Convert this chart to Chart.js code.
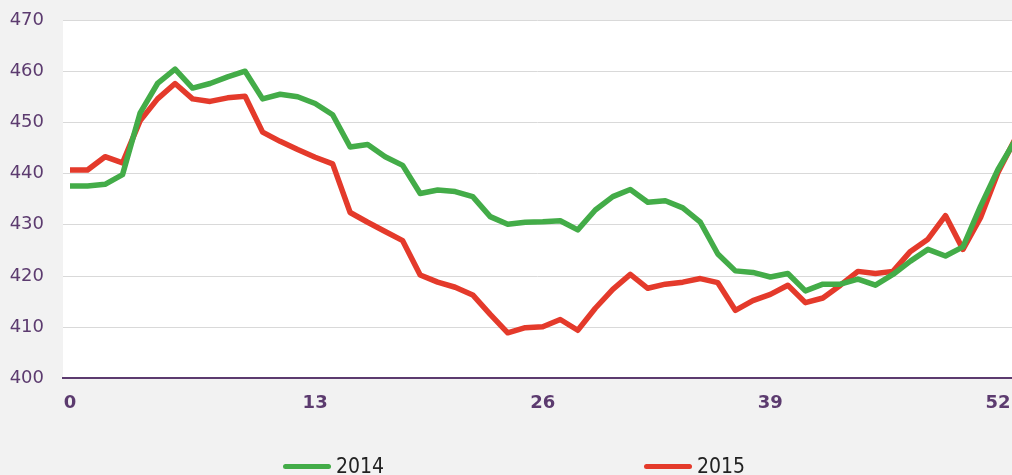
<!DOCTYPE html>
<html>
<head>
<meta charset="utf-8">
<script src="https://cdn.jsdelivr.net/npm/chart.js@4.4.1/dist/chart.umd.min.js"></script>
<style>
  html, body { margin: 0; padding: 0; background: #f2f2f2; }
  #wrap { position: relative; width: 1012px; height: 475px; overflow: hidden; }
  #chart { position: absolute; left: 0; top: 0; }
  .legend-item { position: absolute; top: 456px; height: 20px; display: flex; align-items: center;
    font-family: 'Liberation Sans Narrow', 'DejaVu Sans Condensed', sans-serif; font-size: 21px; color: #222; }
  .legend-line { width: 48px; height: 5px; border-radius: 3px; margin-right: 5px; }
</style>
</head>
<body>
<div id="wrap">
  <canvas id="chart" width="1012" height="475"></canvas>
  <div class="legend-item" id="leg2014" style="left:283px"><span class="legend-line"></span><span class="legend-text"></span></div>
  <div class="legend-item" id="leg2015" style="left:644px"><span class="legend-line"></span><span class="legend-text"></span></div>
</div>
<script>
// weekly values
const series2014 = [
  437.6, 437.6, 437.9, 439.8, 451.8, 457.6, 460.4, 456.7, 457.6, 458.9,
  460.0, 454.6, 455.5, 455.0, 453.7, 451.5, 445.2, 445.7, 443.3, 441.6,
  436.1, 436.8, 436.5, 435.5, 431.6, 430.1, 430.5, 430.6, 430.8, 429.0,
  432.9, 435.5, 436.9, 434.4, 434.7, 433.3, 430.5, 424.3, 421.0, 420.7,
  419.8, 420.5, 417.1, 418.4, 418.4, 419.4, 418.2, 420.3, 422.9, 425.2,
  423.9, 425.7, 433.6, 440.8, 446.6
];
const series2015 = [
  440.7, 440.7, 443.3, 442.1, 450.3, 454.6, 457.6, 454.6, 454.1, 454.8,
  455.1, 448.1, 446.3, 444.7, 443.2, 441.9, 432.4, 430.5, 428.7, 426.9,
  420.2, 418.8, 417.8, 416.3, 412.5, 408.9, 409.9, 410.1, 411.5, 409.4,
  413.7, 417.4, 420.3, 417.6, 418.4, 418.8, 419.5, 418.7, 413.3, 415.2,
  416.4, 418.2, 414.8, 415.7, 418.2, 420.9, 420.5, 420.9, 424.8, 427.2,
  431.8, 425.2, 431.4, 440.2, 446.9
];
const seriesNames = ['2014', '2015'];
const seriesColors = ['#43ac48', '#e43a2b'];

// x axis: point positions and which ones get a label
const pointIndex = series2014.map((_, i) => i);
const tickIndex = [0, 14, 27, 40, 53];
const tickLabels = ['0', '13', '26', '39', '52'];
const yTicks = [400, 410, 420, 430, 440, 450, 460, 470];

const purple = '#5c3b6f';

const plotBackground = {
  id: 'plotBackground',
  beforeDraw(chart) {
    const { ctx, chartArea: a } = chart;
    ctx.save();
    ctx.fillStyle = '#ffffff';
    ctx.fillRect(a.left, a.top, a.right - a.left, a.bottom - a.top);
    ctx.restore();
  }
};

// html legend
[series2014, series2015].forEach((_, i) => {
  const el = document.getElementById('leg' + seriesNames[i]);
  el.querySelector('.legend-line').style.background = seriesColors[i];
  el.querySelector('.legend-text').textContent = seriesNames[i];
});

const ctx = document.getElementById('chart').getContext('2d');
new Chart(ctx, {
  type: 'line',
  data: {
    labels: pointIndex,
    datasets: [
      {
        label: seriesNames[0],
        data: series2014,
        borderColor: seriesColors[0],
        borderWidth: 5.5,
        borderJoinStyle: 'round',
        pointRadius: 0,
        tension: 0
      },
      {
        label: seriesNames[1],
        data: series2015,
        borderColor: seriesColors[1],
        borderWidth: 5.5,
        borderJoinStyle: 'round',
        pointRadius: 0,
        tension: 0
      }
    ]
  },
  options: {
    responsive: false,
    animation: false,
    layout: { padding: { left: 9, right: 0, top: 20, bottom: 47 } },
    scales: {
      x: {
        type: 'linear',
        min: -0.4,
        max: 53.8,
        afterBuildTicks: axis => {
          axis.ticks = tickIndex.map(v => ({ value: v }));
        },
        afterFit: scale => {
          scale.paddingLeft = 0;
          scale.paddingRight = 0;
        },
        grid: { display: false, drawTicks: false },
        border: { display: true, color: purple, width: 2 },
        ticks: {
          autoSkip: false,
          maxRotation: 0,
          padding: 14,
          color: purple,
          font: { family: 'DejaVu Sans', size: 18, weight: 'bold' },
          callback: value => tickLabels[tickIndex.indexOf(value)] ?? ''
        }
      },
      y: {
        min: 400,
        max: 470,
        afterBuildTicks: axis => {
          axis.ticks = yTicks.map(v => ({ value: v }));
        },
        afterFit: scale => {
          scale.paddingTop = 0;
          scale.paddingBottom = 0;
          scale.width = 54;
        },
        grid: { color: '#d9d9d9', lineWidth: 1, drawTicks: false },
        border: { display: false },
        ticks: {
          padding: 19,
          color: purple,
          font: { family: 'DejaVu Sans', size: 18 }
        }
      }
    },
    plugins: {
      legend: { display: false },
      tooltip: { enabled: false }
    }
  },
  plugins: [plotBackground]
});
</script>
</body>
</html>
